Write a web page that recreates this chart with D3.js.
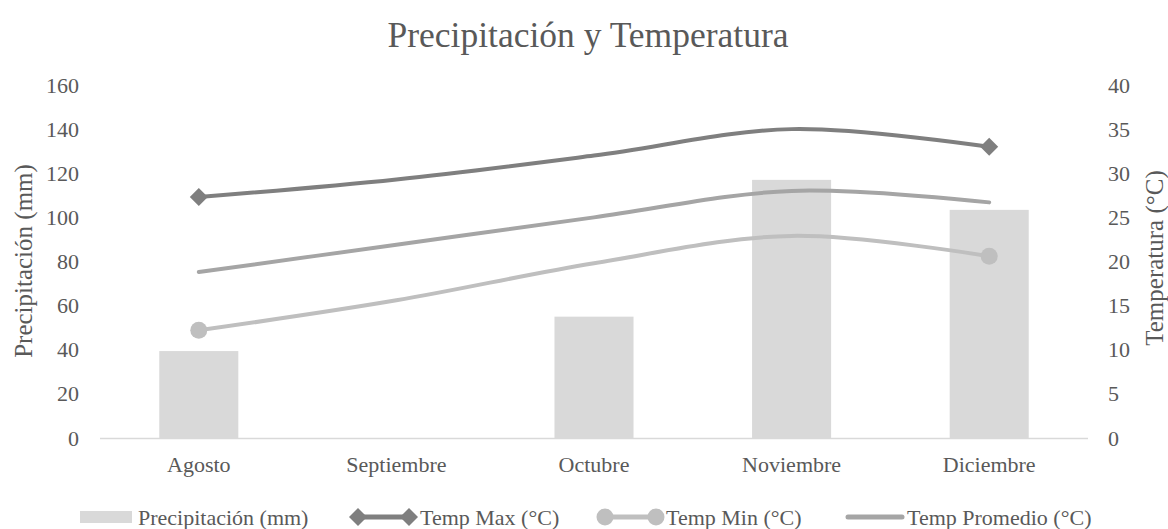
<!DOCTYPE html>
<html>
<head>
<meta charset="utf-8">
<script src="https://cdn.jsdelivr.net/npm/d3@7"></script>
<style>
  body { margin: 0; background: #fff; }
  svg text { font-family: "Liberation Serif", "DejaVu Serif", serif; fill: #595959; }
</style>
</head>
<body>
<div id="grafiek"></div>
<script>
// data uit de grafiek
const meses = ["Agosto", "Septiembre", "Octubre", "Noviembre", "Diciembre"];
const precipitacion = [39.4, 0, 55, 117, 103.4];
const tempMax = [27.3, 29.3, 32, 35, 33];
const tempMin = [12.2, 15.6, 19.8, 22.9, 20.6];
const tempPromedio = [18.8, 21.9, 25, 28, 26.7];
const ticksLinks = [0, 20, 40, 60, 80, 100, 120, 140, 160];
const ticksRechts = [0, 5, 10, 15, 20, 25, 30, 35, 40];

const width = 1168;
const height = 529;
const margin = { top: 85, bottom: 91, left: 100, right: 80 };
const lettertype = '"Liberation Serif", "DejaVu Serif", serif';

const svg = d3
  .select("#grafiek")
  .append("svg")
  .attr("width", width)
  .attr("height", height)
  .attr("font-family", lettertype);

// schalen
const xschaal = d3
  .scaleBand()
  .domain(meses)
  .range([margin.left, width - margin.right])
  .paddingInner(0.6)
  .paddingOuter(0.3);

const yLinks = d3
  .scaleLinear()
  .domain([0, 160])
  .range([height - margin.bottom, margin.top]);

const yRechts = d3
  .scaleLinear()
  .domain([0, 40])
  .range([height - margin.bottom, margin.top]);

const midden = (m) => xschaal(m) + xschaal.bandwidth() / 2;

// titel
svg
  .append("text")
  .attr("x", 588)
  .attr("y", 47)
  .attr("text-anchor", "middle")
  .style("font-size", "35.5px")
  .text("Precipitación y Temperatura");

// balken
svg
  .append("g")
  .selectAll("rect")
  .data(meses.map((m, i) => ({ mes: m, value: precipitacion[i] })))
  .join("rect")
  .attr("x", (d) => xschaal(d.mes))
  .attr("width", xschaal.bandwidth())
  .attr("y", (d) => yLinks(d.value))
  .attr("height", (d) => yLinks(0) - yLinks(d.value))
  .attr("fill", "#d9d9d9");

// x as lijn
svg
  .append("line")
  .attr("x1", margin.left)
  .attr("x2", width - margin.right)
  .attr("y1", yLinks(0) + 0.5)
  .attr("y2", yLinks(0) + 0.5)
  .attr("stroke", "#d9d9d9")
  .attr("stroke-width", 1.5);

// assen
const xaxis = d3.axisBottom(xschaal).tickSize(0).tickPadding(18);
const g_xaxis = svg
  .append("g")
  .attr("transform", `translate(0,${yLinks(0)})`)
  .call(xaxis);

const yaxisL = d3.axisLeft(yLinks).tickValues(ticksLinks).tickSize(0).tickPadding(21);
const g_yaxisL = svg
  .append("g")
  .attr("transform", `translate(${margin.left},0)`)
  .call(yaxisL);

const yaxisR = d3.axisRight(yRechts).tickValues(ticksRechts).tickSize(0).tickPadding(20);
const g_yaxisR = svg
  .append("g")
  .attr("transform", `translate(${width - margin.right},0)`)
  .call(yaxisR);

[g_xaxis, g_yaxisL, g_yaxisR].forEach((g) => {
  g.attr("font-family", lettertype).attr("font-size", 22);
  g.select(".domain").remove();
  g.selectAll("text").attr("fill", "#595959");
});

// as titels
svg
  .append("text")
  .attr("transform", "translate(32,261) rotate(-90)")
  .attr("text-anchor", "middle")
  .style("font-size", "25px")
  .text("Precipitación (mm)");

svg
  .append("text")
  .attr("transform", "translate(1163,258) rotate(-90)")
  .attr("text-anchor", "middle")
  .style("font-size", "25px")
  .text("Temperatura (°C)");

// lijnen
const lijn = d3
  .line()
  .x((d) => midden(d.mes))
  .y((d) => yRechts(d.value))
  .curve(d3.curveCardinal.tension(0));

const reeksen = [
  { naam: "Temp Max (°C)", values: tempMax, kleur: "#7f7f7f", marker: "diamond" },
  { naam: "Temp Min (°C)", values: tempMin, kleur: "#bfbfbf", marker: "circle" },
  { naam: "Temp Promedio (°C)", values: tempPromedio, kleur: "#a5a5a5", marker: null },
];

function marker(g, type, kleur, x, y) {
  if (type === "diamond") {
    g.append("path")
      .attr("d", "M0,-9L9,0L0,9L-9,0Z")
      .attr("transform", `translate(${x},${y})`)
      .attr("fill", kleur);
  } else if (type === "circle") {
    g.append("circle")
      .attr("cx", x)
      .attr("cy", y)
      .attr("r", 8.5)
      .attr("fill", kleur);
  }
}

reeksen.forEach((r) => {
  const punten = meses.map((m, i) => ({ mes: m, value: r.values[i] }));
  const g = svg.append("g");
  g.append("path")
    .datum(punten)
    .attr("d", lijn)
    .attr("fill", "none")
    .attr("stroke", r.kleur)
    .attr("stroke-width", 4)
    .attr("stroke-linecap", "round");
  // markers alleen op begin en eind
  [punten[0], punten[punten.length - 1]].forEach((p) =>
    marker(g, r.marker, r.kleur, midden(p.mes), yRechts(p.value))
  );
});

// legenda
const ly = 517;
const legenda = svg.append("g");
legenda
  .append("rect")
  .attr("x", 80)
  .attr("y", ly - 6)
  .attr("width", 52)
  .attr("height", 12)
  .attr("fill", "#d9d9d9");
legenda
  .append("text")
  .attr("x", 138)
  .attr("y", ly)
  .attr("dy", "0.35em")
  .style("font-size", "22px")
  .text("Precipitación (mm)");

const legX = [
  { x1: 358, x2: 409, tx: 420 },
  { x1: 605, x2: 656, tx: 666 },
  { x1: 848, x2: 902, tx: 907 },
];

reeksen.forEach((r, i) => {
  const p = legX[i];
  legenda
    .append("line")
    .attr("x1", p.x1)
    .attr("x2", p.x2)
    .attr("y1", ly)
    .attr("y2", ly)
    .attr("stroke", r.kleur)
    .attr("stroke-width", 5)
    .attr("stroke-linecap", "round");
  marker(legenda, r.marker, r.kleur, p.x1, ly);
  marker(legenda, r.marker, r.kleur, p.x2, ly);
  legenda
    .append("text")
    .attr("x", p.tx)
    .attr("y", ly)
    .attr("dy", "0.35em")
    .style("font-size", "22px")
    .text(r.naam);
});
</script>
</body>
</html>
